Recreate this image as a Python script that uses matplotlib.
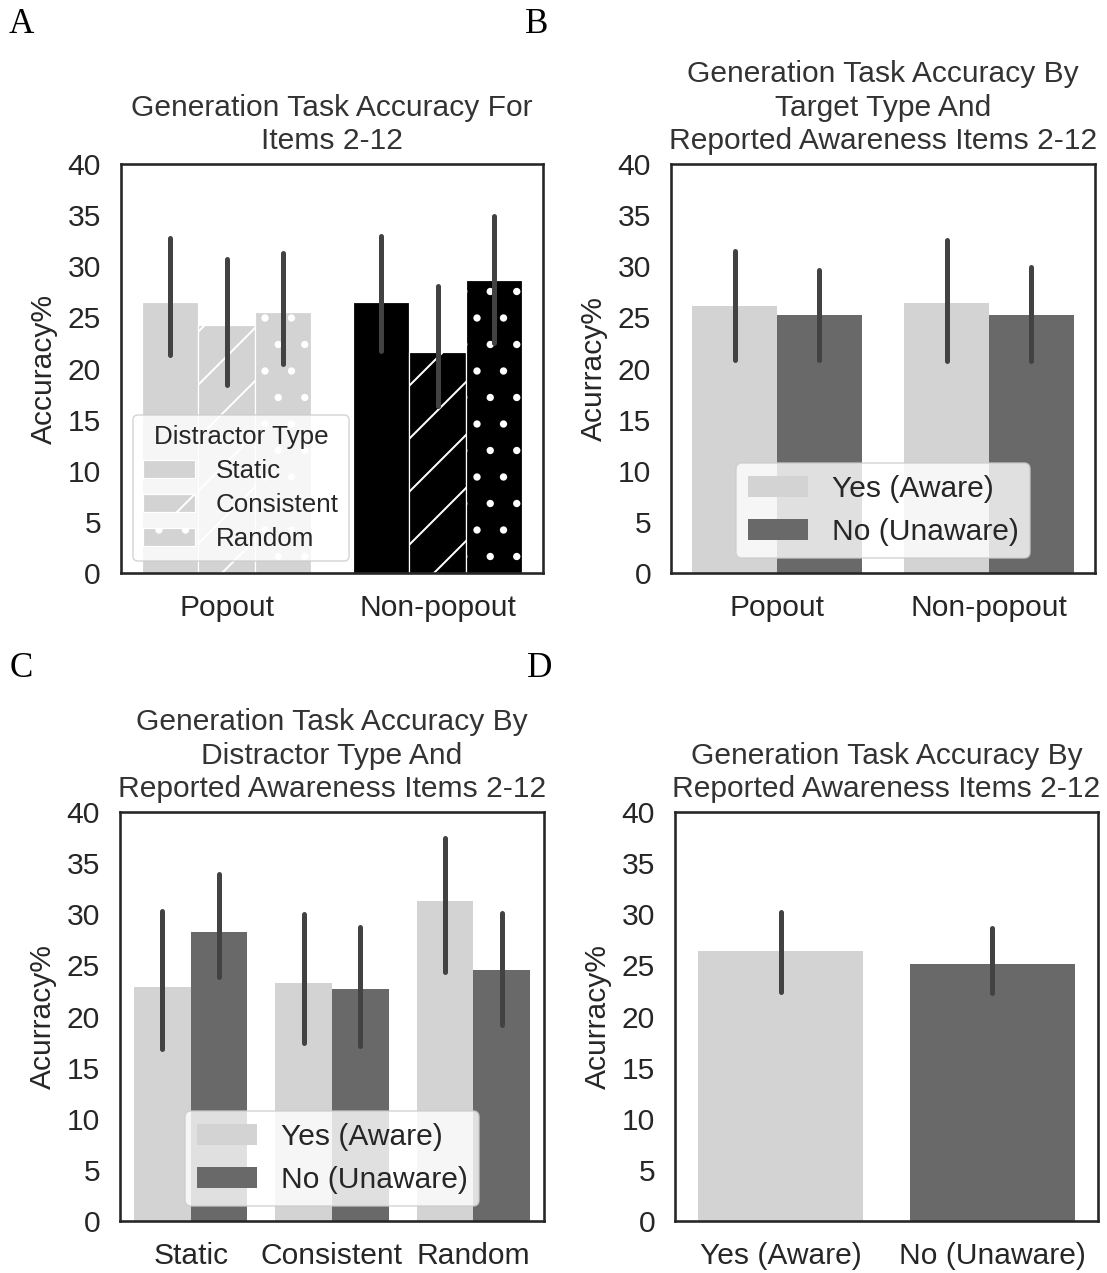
import numpy as np
import matplotlib
matplotlib.use("Agg")
import matplotlib.pyplot as plt

# ---------------- data ----------------
targets = ["Popout", "Non-popout"]
distractors = ["Static", "Consistent", "Random"]
awareness = ["Yes (Aware)", "No (Unaware)"]

# panel A: accuracy by target type (rows) and distractor type (cols)
acc_a = [[26.5, 24.3, 25.5], [26.5, 21.6, 28.7]]
lo_a = [[21.3, 18.4, 20.4], [21.7, 16.3, 22.5]]
hi_a = [[32.8, 30.7, 31.3], [33.0, 28.1, 34.9]]

# panel B: by awareness (rows) and target type (cols)
acc_b = [[26.1, 26.4], [25.2, 25.2]]
lo_b = [[20.8, 20.7], [20.8, 20.7]]
hi_b = [[31.5, 32.6], [29.6, 29.9]]

# panel C: by awareness (rows) and distractor type (cols)
acc_c = [[22.9, 23.3, 31.3], [28.3, 22.7, 24.5]]
lo_c = [[16.8, 17.4, 24.4], [23.9, 17.1, 19.2]]
hi_c = [[30.3, 30.0, 37.5], [33.9, 28.8, 30.1]]

# panel D: by awareness only
acc_d = [26.4, 25.1]
lo_d = [22.4, 22.3]
hi_d = [30.2, 28.7]

# ---------------- style ----------------
DPI = 318
PT = 72.0 / DPI          # points per pixel
FS = 30 * PT             # main text size
INK = "#262626"
ERR = "#424242"
LIGHT = "#d3d3d3"
DARK = "#696969"

plt.rcParams["font.family"] = ["Liberation Sans", "DejaVu Sans"]
plt.rcParams["hatch.linewidth"] = 2 * PT
plt.rcParams["hatch.color"] = "white"
plt.rcParams["text.color"] = INK
plt.rcParams["axes.labelcolor"] = INK
plt.rcParams["xtick.color"] = INK
plt.rcParams["ytick.color"] = INK

W, H = 1107, 1273
fig = plt.figure(figsize=(W / DPI, H / DPI), dpi=DPI)


def box(l, t, r, b):
    return [l / W, 1 - b / H, (r - l) / W, (b - t) / H]


def style(ax, title, ylabel):
    ax.set_ylim(0, 40)
    ax.set_yticks(np.arange(0, 41, 5))
    ax.tick_params(length=0, labelsize=FS, pad=20 * PT)
    ax.tick_params(axis="x", pad=21 * PT)
    for s in ax.spines.values():
        s.set_color(INK)
        s.set_linewidth(2.6 * PT)
    ax.set_title(title, fontsize=FS, pad=15 * PT, color="#333333", linespacing=1.25)
    ax.set_ylabel(ylabel, fontsize=FS, labelpad=10 * PT)


def errbar(ax, x, lo, hi):
    ax.plot([x, x], [lo, hi], color=ERR, lw=5 * PT, solid_capstyle="round", zorder=3)


def legend(ax, loc, size, **kw):
    leg = ax.legend(loc=loc, fontsize=size, frameon=True, fancybox=True,
                    framealpha=0.8, edgecolor="#cccccc", **kw)
    leg.get_frame().set_linewidth(1.5 * PT)
    return leg


# ---- A ----
ax = fig.add_axes(box(121, 164, 543, 573))
hatches = ["", "//", ".."]
fills = [LIGHT, "black"]
w = 0.8 / 3
for i, t in enumerate(targets):
    for j, d in enumerate(distractors):
        x = i + (j - 1) * w
        ax.bar(x, acc_a[i][j], width=w, color=fills[i], edgecolor="white",
               linewidth=1.2 * PT, hatch=hatches[j],
               label=d if i == 0 else None, zorder=2)
        errbar(ax, x, lo_a[i][j], hi_a[i][j])
ax.set_xlim(-0.5, 1.5)
ax.set_xticks(range(len(targets)), targets)
style(ax, "Generation Task Accuracy For\nItems 2-12", "Accuracy%")
legend(ax, "lower left", 26 * PT, title="Distractor Type", title_fontsize=26 * PT,
       labelspacing=0.38, borderaxespad=0.45)

# ---- B ----
ax = fig.add_axes(box(671, 164, 1095, 573))
w = 0.4
for k, a in enumerate(awareness):
    for i in range(len(targets)):
        x = i + (k - 0.5) * w
        ax.bar(x, acc_b[k][i], width=w, color=[LIGHT, DARK][k], linewidth=0,
               label=a if i == 0 else None, zorder=2)
        errbar(ax, x, lo_b[k][i], hi_b[k][i])
ax.set_xlim(-0.5, 1.5)
ax.set_xticks(range(len(targets)), targets)
style(ax, "Generation Task Accuracy By\nTarget Type And\nReported Awareness Items 2-12",
      "Acurracy%")
legend(ax, "lower center", FS)

# ---- C ----
ax = fig.add_axes(box(120, 812, 544, 1221))
for k, a in enumerate(awareness):
    for i in range(len(distractors)):
        x = i + (k - 0.5) * w
        ax.bar(x, acc_c[k][i], width=w, color=[LIGHT, DARK][k], linewidth=0,
               label=a if i == 0 else None, zorder=2)
        errbar(ax, x, lo_c[k][i], hi_c[k][i])
ax.set_xlim(-0.5, 2.5)
ax.set_xticks(range(len(distractors)), distractors)
style(ax, "Generation Task Accuracy By\nDistractor Type And\nReported Awareness Items 2-12",
      "Acurracy%")
legend(ax, "lower center", FS)

# ---- D ----
ax = fig.add_axes(box(675, 812, 1098, 1221))
for k, a in enumerate(awareness):
    ax.bar(k, acc_d[k], width=0.78, color=[LIGHT, DARK][k], linewidth=0, zorder=2)
    errbar(ax, k, lo_d[k], hi_d[k])
ax.set_xlim(-0.5, 1.5)
ax.set_xticks(range(len(awareness)), awareness)
style(ax, "Generation Task Accuracy By\nReported Awareness Items 2-12", "Acurracy%")

# panel letters
for letter, x, y in [("A", 9, 33), ("B", 525, 33), ("C", 10, 677), ("D", 527, 677)]:
    fig.text(x / W, 1 - y / H, letter, family=["Liberation Serif", "DejaVu Serif"],
             fontsize=35 * PT, color="black", va="baseline", ha="left")

fig.savefig("out.png", dpi=DPI)
